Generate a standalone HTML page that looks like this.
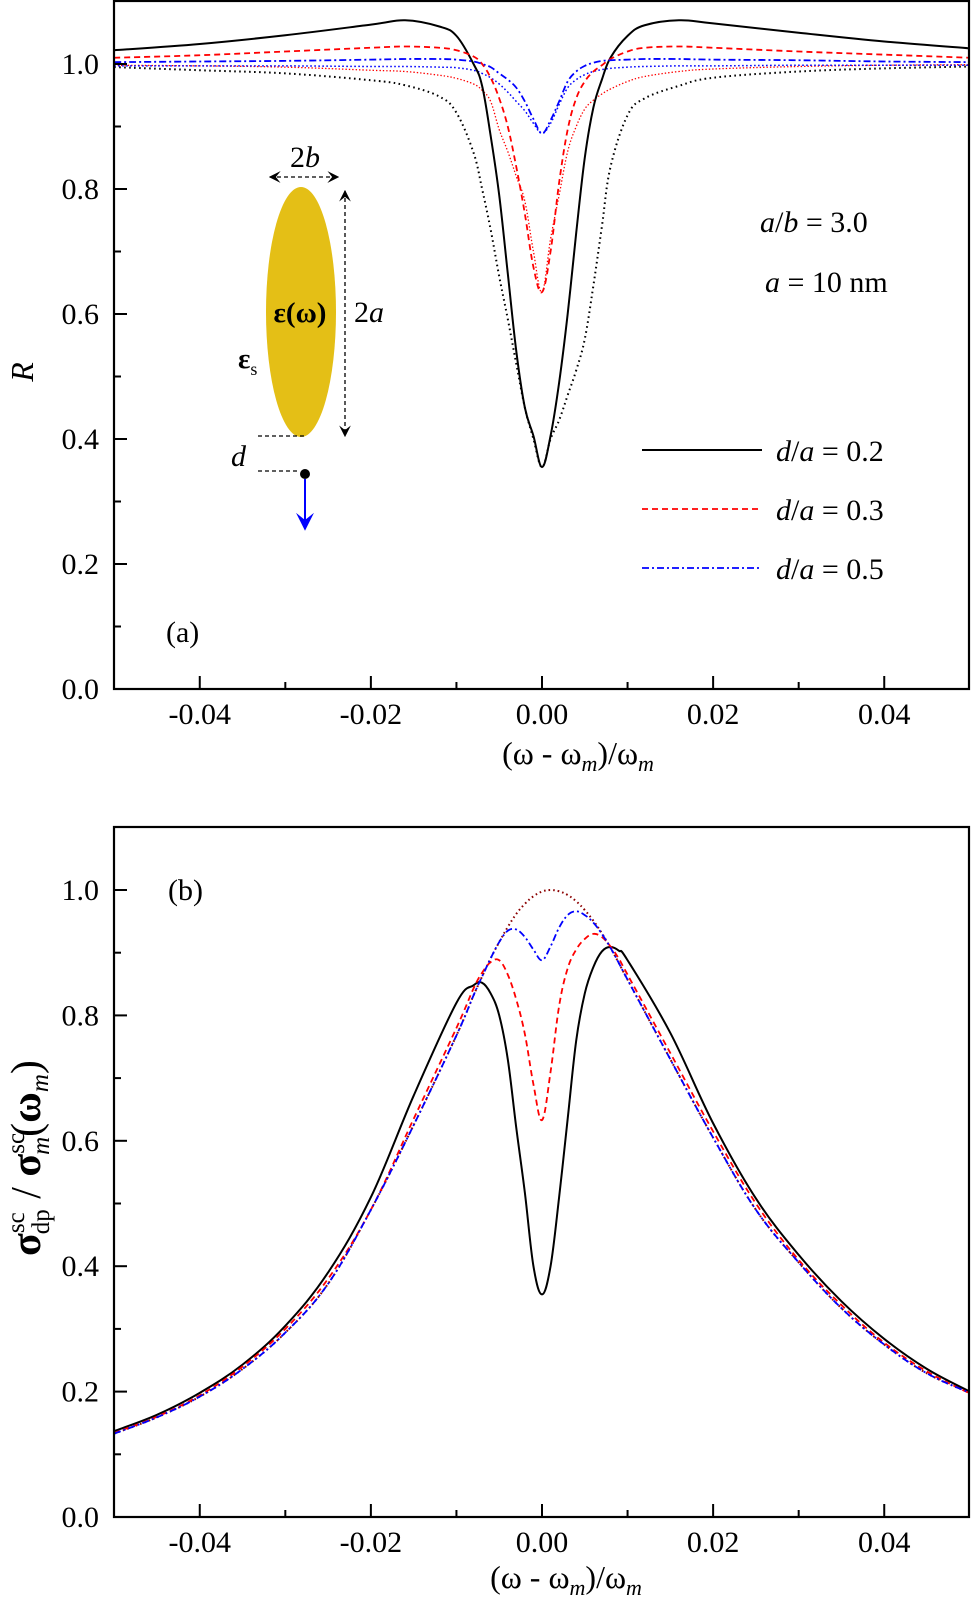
<!DOCTYPE html>
<html><head><meta charset="utf-8"><style>
html,body{margin:0;padding:0;background:#fff;}
svg{display:block;font-family:"Liberation Serif",serif;}
</style></head><body>
<svg id="fig" width="972" height="1599" viewBox="0 0 972 1599" xmlns="http://www.w3.org/2000/svg">
<defs>
<clipPath id="clipA"><rect x="114" y="1" width="855" height="688"/></clipPath>
<clipPath id="clipB"><rect x="114" y="827" width="855" height="690"/></clipPath>
<marker id="ah" viewBox="0 0 10 10" refX="9" refY="5" markerWidth="9" markerHeight="9" orient="auto-start-reverse"><path d="M0,0 L10,5 L0,10 L4,5 Z" fill="#000"/></marker>
<marker id="ahb" viewBox="0 0 10 10" refX="9" refY="5" markerWidth="9" markerHeight="9" orient="auto"><path d="M0,0 L10,5 L0,10 L4,5 Z" fill="#0000ff"/></marker>
</defs>
<g id="panelA"></g>
<g id="panelB"></g>

<text x="166" y="642" font-size="30">(a)</text>
<text x="168" y="900" font-size="30">(b)</text>
<text x="760" y="232" font-size="30"><tspan font-style="italic">a</tspan>/<tspan font-style="italic">b</tspan> = 3.0</text>
<text x="765" y="292" font-size="30"><tspan font-style="italic">a</tspan> = 10 nm</text>

<g>
<line x1="642" y1="450" x2="762" y2="450" stroke="#000" stroke-width="2"/>
<text x="776" y="461" font-size="30"><tspan font-style="italic">d</tspan>/<tspan font-style="italic">a</tspan> = 0.2</text>
<line x1="642" y1="509" x2="762" y2="509" stroke="#ff0000" stroke-width="1.8" stroke-dasharray="6,4"/>
<text x="776" y="520" font-size="30"><tspan font-style="italic">d</tspan>/<tspan font-style="italic">a</tspan> = 0.3</text>
<line x1="642" y1="568" x2="762" y2="568" stroke="#0000ff" stroke-width="1.8" stroke-dasharray="7,3,2,3"/>
<text x="776" y="579" font-size="30"><tspan font-style="italic">d</tspan>/<tspan font-style="italic">a</tspan> = 0.5</text>
</g>

<g>
<ellipse cx="301" cy="312" rx="35" ry="125" fill="#E4BF16"/>
<text x="300" y="322" font-size="29" font-weight="bold" text-anchor="middle">ε(ω)</text>
<text x="238" y="368" font-size="29" font-weight="bold">ε<tspan font-size="18" font-weight="normal" dy="7">s</tspan></text>
<text x="290" y="167" font-size="30">2<tspan font-style="italic">b</tspan></text>
<line x1="270" y1="177" x2="338" y2="177" stroke="#000" stroke-width="1.3" stroke-dasharray="4,3" marker-start="url(#ah)" marker-end="url(#ah)"/>
<line x1="345" y1="191" x2="345" y2="436" stroke="#000" stroke-width="1.3" stroke-dasharray="4,3" marker-start="url(#ah)" marker-end="url(#ah)"/>
<text x="354" y="322" font-size="30">2<tspan font-style="italic">a</tspan></text>
<line x1="258" y1="436" x2="305" y2="436" stroke="#000" stroke-width="1.2" stroke-dasharray="4,3"/>
<line x1="258" y1="471" x2="300" y2="471" stroke="#000" stroke-width="1.2" stroke-dasharray="4,3"/>
<text x="231" y="466" font-size="30" font-style="italic">d</text>
<circle cx="305" cy="474" r="5" fill="#000"/>
<line x1="305" y1="479" x2="305" y2="529" stroke="#0000ff" stroke-width="2" marker-end="url(#ahb)"/>
</g>

<text transform="translate(33,372) rotate(-90)" font-size="32" font-style="italic" text-anchor="middle">R</text>
<text transform="translate(40,1158) rotate(-90)" font-size="42" font-weight="bold" text-anchor="middle">σ<tspan font-size="25" font-weight="normal" dy="-16">sc</tspan><tspan font-size="25" font-weight="normal" dx="-22" dy="25">dp</tspan><tspan font-weight="normal" dy="-9"> / </tspan><tspan>σ</tspan><tspan font-size="25" font-weight="normal" dy="-16">sc</tspan><tspan font-size="25" font-weight="normal" font-style="italic" dx="-22" dy="25">m</tspan><tspan font-weight="normal" dy="-9">(</tspan><tspan>ω</tspan><tspan font-size="25" font-weight="normal" font-style="italic" dy="8">m</tspan><tspan font-weight="normal" dy="-8">)</tspan></text>
<text x="578" y="764" font-size="32" text-anchor="middle">(ω - ω<tspan font-size="22" font-style="italic" dy="7">m</tspan><tspan dy="-7">)/ω</tspan><tspan font-size="22" font-style="italic" dy="7">m</tspan></text>
<text x="566" y="1588" font-size="32" text-anchor="middle">(ω - ω<tspan font-size="22" font-style="italic" dy="7">m</tspan><tspan dy="-7">)/ω</tspan><tspan font-size="22" font-style="italic" dy="7">m</tspan></text>
</svg>

<script>
const xGridA = [-0.05,-0.04,-0.03,-0.02,-0.016,-0.012,-0.01,-0.008,-0.007,-0.006,-0.005,-0.004,-0.003,-0.002,-0.001,0,0.001,0.002,0.003,0.004,0.005,0.006,0.007,0.008,0.01,0.012,0.016,0.02,0.03,0.04,0.05];
const rSolid02 = [1.022,1.032,1.046,1.063,1.070,1.060,1.045,1.00,0.965,0.885,0.79,0.665,0.54,0.45,0.405,0.355,0.405,0.49,0.60,0.73,0.85,0.93,0.975,1.01,1.045,1.062,1.070,1.065,1.05,1.036,1.025];
const rDot02 = [0.995,0.99,0.985,0.974,0.966,0.948,0.922,0.858,0.80,0.735,0.66,0.592,0.52,0.45,0.40,0.355,0.40,0.43,0.47,0.51,0.56,0.645,0.74,0.835,0.918,0.945,0.965,0.978,0.988,0.993,0.996];
const rDash03 = [1.01,1.014,1.02,1.026,1.028,1.026,1.022,1.012,1.0,0.978,0.945,0.90,0.835,0.76,0.675,0.635,0.70,0.81,0.895,0.945,0.972,0.988,0.998,1.008,1.02,1.026,1.028,1.026,1.02,1.015,1.01];
const rDot03 = [0.998,0.997,0.995,0.99,0.988,0.982,0.977,0.968,0.958,0.94,0.895,0.86,0.82,0.78,0.70,0.635,0.72,0.79,0.86,0.90,0.928,0.942,0.952,0.96,0.972,0.98,0.988,0.992,0.996,0.998,0.999];
const rDashDot05 = [1.003,1.004,1.005,1.007,1.008,1.008,1.007,1.004,1.0,0.995,0.985,0.975,0.962,0.94,0.912,0.889,0.91,0.94,0.972,0.988,0.997,1.002,1.005,1.006,1.007,1.008,1.008,1.007,1.006,1.004,1.003];
const rDot05 = [0.997,0.997,0.997,0.996,0.996,0.995,0.994,0.99,0.985,0.978,0.968,0.955,0.94,0.925,0.905,0.889,0.905,0.935,0.962,0.975,0.983,0.988,0.991,0.993,0.995,0.996,0.997,0.997,0.998,0.998,0.998];

const xGridB = [-0.05,-0.045,-0.04,-0.035,-0.03,-0.025,-0.02,-0.015,-0.01,-0.008,-0.007,-0.006,-0.005,-0.004,-0.003,-0.002,-0.001,0,0.001,0.002,0.003,0.004,0.005,0.006,0.007,0.008,0.009,0.01,0.015,0.02,0.025,0.03,0.035,0.04,0.045,0.05];
const sRef = [0.133,0.159,0.192,0.236,0.294,0.372,0.49,0.625,0.768,0.832,0.862,0.891,0.917,0.941,0.962,0.978,0.99,0.9975,1.0,0.998,0.992,0.982,0.968,0.951,0.931,0.908,0.883,0.857,0.73,0.605,0.49,0.406,0.333,0.275,0.229,0.198];
const sSolid02 = [0.137,0.163,0.198,0.243,0.305,0.39,0.51,0.672,0.82,0.848,0.852,0.835,0.80,0.73,0.62,0.517,0.40,0.355,0.40,0.51,0.635,0.76,0.835,0.877,0.902,0.909,0.903,0.888,0.772,0.628,0.508,0.418,0.344,0.284,0.236,0.2];
const sDash03 = [0.134,0.16,0.194,0.24,0.30,0.38,0.49,0.635,0.78,0.843,0.868,0.885,0.888,0.865,0.825,0.77,0.69,0.633,0.71,0.815,0.875,0.905,0.922,0.93,0.925,0.91,0.89,0.865,0.74,0.615,0.5,0.41,0.338,0.278,0.232,0.197];
const sDashDot05 = [0.133,0.159,0.192,0.236,0.294,0.372,0.49,0.625,0.768,0.832,0.862,0.891,0.917,0.935,0.937,0.925,0.905,0.888,0.91,0.94,0.96,0.966,0.96,0.948,0.93,0.908,0.883,0.857,0.73,0.605,0.49,0.406,0.333,0.275,0.229,0.198];

const yTicks = [0,0.2,0.4,0.6,0.8,1.0];
const yTickLabels = ["0.0","0.2","0.4","0.6","0.8","1.0"];
const xTicks = [-0.04,-0.02,0,0.02,0.04];
const xTickLabels = ["-0.04","-0.02","0.00","0.02","0.04"];

const X0 = 542, XS = 8556, XL = 114, XR = 969;
function xScale(v){ return X0 + v*XS; }
function yScaleA(v){ return 689 - 625*v; }
function yScaleB(v){ return 1517 - 627*v; }
const NS = "http://www.w3.org/2000/svg";
function mk(tag, parent, attrs){ const e=document.createElementNS(NS,tag); for(const k in attrs) e.setAttribute(k,attrs[k]); parent.appendChild(e); return e; }

function pathD(xs, ys, xf, yf){
  const p = xs.map((x,i)=>[xf(x), yf(ys[i])]);
  let d = "M"+p[0][0].toFixed(2)+","+p[0][1].toFixed(2);
  for(let i=0;i<p.length-1;i++){
    const p0=p[i-1]||p[i], p1=p[i], p2=p[i+1], p3=p[i+2]||p[i+1];
    const t=0.18;
    const c1=[p1[0]+(p2[0]-p0[0])*t, p1[1]+(p2[1]-p0[1])*t];
    const c2=[p2[0]-(p3[0]-p1[0])*t, p2[1]-(p3[1]-p1[1])*t];
    d += " C"+c1[0].toFixed(2)+","+c1[1].toFixed(2)+" "+c2[0].toFixed(2)+","+c2[1].toFixed(2)+" "+p2[0].toFixed(2)+","+p2[1].toFixed(2);
  }
  return d;
}

function drawAxes(g, yf, top, bottom, tag){
  const ax = mk("g", g, {});
  
  
  for(let k=0;k<=10;k++){
    const v=k/10, y=yf(v), major=(k%2===0);
    const t = mk("line", ax, {x1:XL, x2:XL+(major?13:7), y1:y, y2:y, stroke:"#000","stroke-width":2});
    
    
  }
  yTicks.forEach((v,i)=>{
    const t = mk("text", ax, {x:99, y:yf(v)+10, "font-size":30, "text-anchor":"end"});
    t.textContent = yTickLabels[i];
    
    
  });
  for(let k=-4;k<=4;k++){
    const v=k/100, x=xScale(v), major=(k%2===0);
    const t = mk("line", ax, {x1:x, x2:x, y1:bottom, y2:bottom-(major?13:7), stroke:"#000","stroke-width":2});
    
    
  }
  xTicks.forEach((v,i)=>{
    const t = mk("text", ax, {x:xScale(v), y:bottom+35, "font-size":30, "text-anchor":"middle"});
    t.textContent = xTickLabels[i];
    
    
  });
  const f = mk("rect", ax, {x:XL, y:top, width:XR-XL, height:bottom-top, fill:"none", stroke:"#000","stroke-width":2.2});
  
  
}

function series(g, clip, xs, ys, yf, color, dash, w, name){
  const p = mk("path", g, {d:pathD(xs,ys,xScale,yf), fill:"none", stroke:color, "stroke-width":w, "clip-path":"url(#"+clip+")", "stroke-linejoin":"round"});
  if(dash) p.setAttribute("stroke-dasharray", dash);
  
  
}

const gA = document.getElementById("panelA");
const gB = document.getElementById("panelB");
series(gA,"clipA",xGridA,rDot02,yScaleA,"#000","1.6,3.4",2,"line-r-d02-reference");
series(gA,"clipA",xGridA,rDot03,yScaleA,"#ff0000","1.4,2",1.3,"line-r-d03-reference");
series(gA,"clipA",xGridA,rDot05,yScaleA,"#0000ff","1.6,2.4",1.5,"line-r-d05-reference");
series(gA,"clipA",xGridA,rSolid02,yScaleA,"#000",null,2,"line-r-d02");
series(gA,"clipA",xGridA,rDash03,yScaleA,"#ff0000","6,4",1.8,"line-r-d03");
series(gA,"clipA",xGridA,rDashDot05,yScaleA,"#0000ff","7,3,2,3",1.8,"line-r-d05");
drawAxes(gA, yScaleA, 1, 689, "panel-a");

series(gB,"clipB",xGridB,sRef,yScaleB,"#8b0000","1.6,3",2,"line-sigma-reference");
series(gB,"clipB",xGridB,sSolid02,yScaleB,"#000",null,2,"line-sigma-d02");
series(gB,"clipB",xGridB,sDash03,yScaleB,"#ff0000","6,4",1.8,"line-sigma-d03");
series(gB,"clipB",xGridB,sDashDot05,yScaleB,"#0000ff","7,3,2,3",1.8,"line-sigma-d05");
drawAxes(gB, yScaleB, 827, 1517, "panel-b");
</script>
</body></html>
